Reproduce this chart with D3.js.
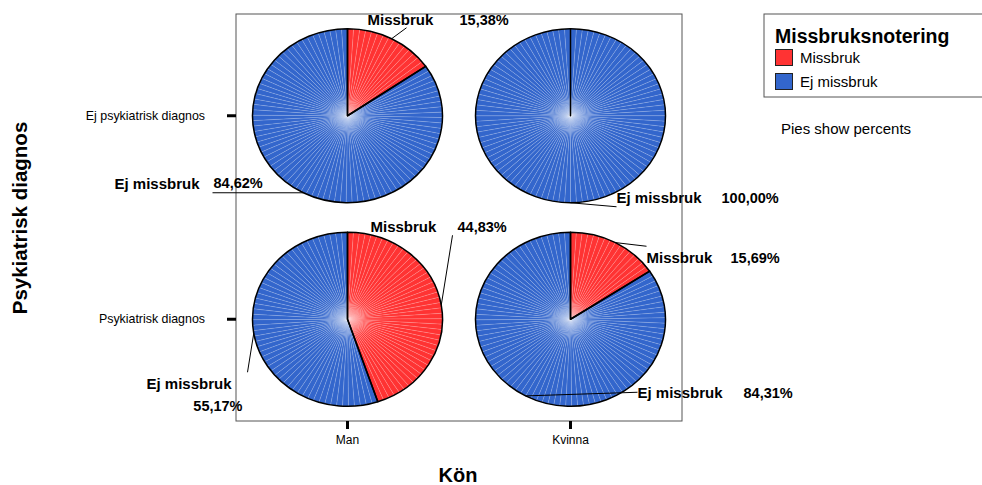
<!DOCTYPE html>
<html><head><meta charset="utf-8">
<script src="https://cdn.jsdelivr.net/npm/d3@7"></script>
<style>
body{margin:0;background:#fff}
svg{display:block}
text{font-family:"Liberation Sans",Arial,sans-serif;fill:#000}
</style>
</head><body>
<svg id="chart" width="982" height="485"></svg>
<script>
// Row / column categories of the pie panel
const genders = ["Man", "Kvinna"];
const diagnoses = ["Ej psykiatrisk diagnos", "Psykiatrisk diagnos"];
const categories = ["Missbruk", "Ej missbruk"];
// Percent per cell: rows = diagnoses, columns = genders
const missbrukPct = [[15.38, 0.00], [44.83, 15.69]];
const ejMissbrukPct = [[84.62, 100.00], [55.17, 84.31]];
const colors = ["#ff3333", "#3366cc"];

// Label placement (offsets from each pie's centre): leader end, name and percent text
const labelLayout = {
  "0-0-Missbruk":    {end:[59, -88], name:[20, -91, "start"], pct:[112, -91, "start"]},
  "0-0-Ej missbruk": {end:[-135, 77], name:[-148, 73, "end"], pct:[-134, 72, "start"]},
  "0-1-Ej missbruk": {end:[46, 91], name:[46, 87, "start"], pct:[151, 87, "start"]},
  "1-0-Missbruk":    {end:[105, -84], name:[23, -87, "start"], pct:[110, -87, "start"]},
  "1-0-Ej missbruk": {end:[-100, 53], name:[-116, 70, "end"], pct:[-105, 92, "end"]},
  "1-1-Missbruk":    {end:[76, -73], name:[76, -56, "start"], pct:[160, -56, "start"]},
  "1-1-Ej missbruk": {end:[67, 73], name:[67, 79, "start"], pct:[173, 79, "start"]}
};

const svg = d3.select("#chart");
const frame = {x0: 236, x1: 682, y0: 14, y1: 421};
const x = d3.scaleBand().domain(genders).range([frame.x0, frame.x1]);
const y = d3.scaleBand().domain(diagnoses).range([frame.y0, frame.y1]);
const color = d3.scaleOrdinal().domain(categories).range(colors);
const rx = 95, ry = 87;

const defs = svg.append("defs");
const glow = defs.append("radialGradient").attr("id", "glow");
glow.append("stop").attr("offset", "0%").attr("stop-color", "#fff").attr("stop-opacity", 0.28);
glow.append("stop").attr("offset", "100%").attr("stop-color", "#fff").attr("stop-opacity", 0);

// plot frame
svg.append("rect")
  .attr("x", frame.x0).attr("y", frame.y0)
  .attr("width", frame.x1 - frame.x0).attr("height", frame.y1 - frame.y0)
  .attr("fill", "none").attr("stroke", "#555").attr("stroke-width", 1);

// axes with heavy short ticks
const xAxis = svg.append("g").attr("transform", `translate(0,${frame.y1})`)
  .call(d3.axisBottom(x).tickSize(8).tickPadding(6));
xAxis.select(".domain").remove();
xAxis.selectAll(".tick line").attr("stroke", "#000").attr("stroke-width", 3);
xAxis.selectAll(".tick text").attr("font-size", 12).attr("fill", "#000")
  .style("font-family", "'Liberation Sans',Arial,sans-serif");

const yAxis = svg.append("g").attr("transform", `translate(${frame.x0},0)`)
  .call(d3.axisLeft(y).tickSize(9).tickPadding(22));
yAxis.select(".domain").remove();
yAxis.selectAll(".tick line").attr("stroke", "#000").attr("stroke-width", 3);
yAxis.selectAll(".tick text").attr("font-size", 12.4).attr("fill", "#000")
  .style("font-family", "'Liberation Sans',Arial,sans-serif");

// axis titles
svg.append("text").attr("x", 458).attr("y", 482).attr("text-anchor", "middle")
  .attr("font-size", 20).attr("font-weight", "bold").text("Kön");
svg.append("text").attr("transform", "translate(27,218) rotate(-90)")
  .attr("text-anchor", "middle").attr("font-size", 20.5).attr("font-weight", "bold")
  .text("Psykiatrisk diagnos");

const pie = d3.pie().sort(null).value(d => d.value);
const arc = d3.arc().innerRadius(0).outerRadius(rx);
const step = 2 * Math.PI / 100;
const fmt = v => v.toFixed(2).replace(".", ",") + "%";

diagnoses.forEach((diag, r) => {
  genders.forEach((g, c) => {
    const cx = x(g) + x.bandwidth() / 2;
    const cy = y(diag) + y.bandwidth() / 2;
    const data = [
      {cat: categories[0], value: missbrukPct[r][c]},
      {cat: categories[1], value: ejMissbrukPct[r][c]}
    ];
    const arcs = pie(data);
    const cell = svg.append("g").attr("transform", `translate(${cx},${cy})`);
    const body = cell.append("g").attr("transform", `scale(1,${ry / rx})`);

    // each slice is rendered from many thin wedges, giving the fine radial lines
    arcs.forEach(a => {
      const span = a.endAngle - a.startAngle;
      if (span <= 0) return;
      const n = Math.max(1, Math.round(span / step));
      const pieces = d3.range(n).map(i => ({
        startAngle: a.startAngle + span * i / n,
        endAngle: a.startAngle + span * (i + 1) / n
      }));
      body.selectAll(null).data(pieces).join("path")
        .attr("d", arc)
        .attr("fill", color(a.data.cat))
        .attr("stroke", "rgba(255,255,255,0.28)")
        .attr("stroke-width", 0.5)
        .attr("vector-effect", "non-scaling-stroke");
    });
    body.append("circle").attr("r", 22).attr("fill", "url(#glow)");
    body.selectAll(null).data(arcs).join("path")
      .attr("d", arc)
      .attr("fill", "none")
      .attr("stroke", "#000")
      .attr("stroke-width", 1.5)
      .attr("stroke-linejoin", "round")
      .attr("vector-effect", "non-scaling-stroke");

    // slice labels with leader lines
    arcs.forEach(a => {
      if (a.data.value <= 0) return;
      const L = labelLayout[`${r}-${c}-${a.data.cat}`];
      const mid = (a.startAngle + a.endAngle) / 2;
      const sx = rx * Math.sin(mid), sy = -ry * Math.cos(mid);
      cell.append("line")
        .attr("x1", sx).attr("y1", sy).attr("x2", L.end[0]).attr("y2", L.end[1])
        .attr("stroke", "#000").attr("stroke-width", 1);
      cell.append("text").attr("x", L.name[0]).attr("y", L.name[1])
        .attr("text-anchor", L.name[2]).attr("font-size", 15).attr("font-weight", "bold")
        .text(a.data.cat);
      cell.append("text").attr("x", L.pct[0]).attr("y", L.pct[1])
        .attr("text-anchor", L.pct[2]).attr("font-size", 14.5).attr("font-weight", "bold")
        .text(fmt(a.data.value));
    });
  });
});

// legend
const legend = svg.append("g");
legend.append("rect").attr("x", 764).attr("y", 14).attr("width", 230).attr("height", 83)
  .attr("fill", "#fff").attr("stroke", "#555").attr("stroke-width", 1);
legend.append("text").attr("x", 775).attr("y", 43).attr("font-size", 19.5)
  .attr("font-weight", "bold").text("Missbruksnotering");
categories.forEach((cat, i) => {
  legend.append("rect").attr("x", 775.5).attr("y", 49.5 + i * 24)
    .attr("width", 17).attr("height", 16)
    .attr("fill", color(cat)).attr("stroke", "#222").attr("stroke-width", 1);
  legend.append("text").attr("x", 800).attr("y", 63 + i * 23.5)
    .attr("font-size", 15).text(cat);
});
svg.append("text").attr("x", 781).attr("y", 134).attr("font-size", 15).text("Pies show percents");
</script>
</body></html>
